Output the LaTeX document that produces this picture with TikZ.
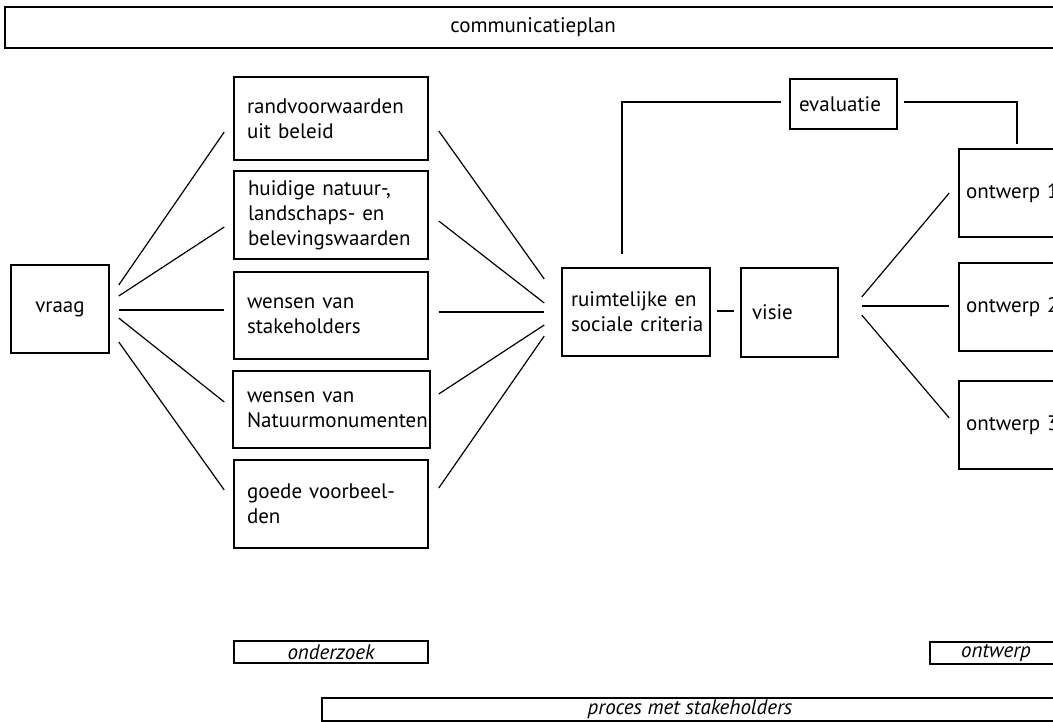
\documentclass[tikz,border=0pt]{standalone}
\usepackage{fontspec}
\setmainfont{PT Sans}
\usetikzlibrary{calc}

\begin{document}
\begin{tikzpicture}[x=1pt,y=-1pt,
			line width=1.2pt,
			square node/.style={rectangle,draw,line width=1.5pt,inner sep=0pt,
				minimum width=194pt,minimum height=88pt,font=\fontsize{21}{25}\selectfont},
			left node/.style={square node,align=left,text width=#1},
			band node/.style={rectangle,draw,line width=1.5pt,inner sep=0pt,
				minimum height=22pt,font=\fontsize{21}{25}\selectfont\itshape}]
			
			\useasboundingbox (0,0) rectangle (1053,722);
			\clip (0,0) rectangle (1053,722);
			
			\node[square node,minimum width=1056pt,minimum height=41pt,font=\fontsize{21}{25}\selectfont] (plan) at (533,27.5) {communicatieplan};
			
			\node[square node,minimum width=98pt] (vraag) at (60,309) {vraag};
			\node[left node=168pt,minimum height=83pt] (beleid) at (331,118.5) {randvoorwaarden\\uit beleid};
			\node[left node=166pt] (waarden) at (331,215) {huidige natuur-,\\landschaps- en\\belevingswaarden};
			\node[left node=168pt,minimum height=87pt] (stakeh) at (331,315.5) {wensen van\\stakeholders};
			\node[left node=169pt,minimum width=197pt,minimum height=77pt] (natuurm) at (331.5,409.5) {wensen van\\Natuurmonumenten};
			\node[left node=168pt] (voorb) at (331,504) {goede voorbeel-\\den};
			
			\node[left node=130pt,minimum width=148pt] (criteria) at (636,312) {ruimtelijke en\\\mbox{sociale criteria}};
			\node[left node=75pt,minimum width=97pt,minimum height=89pt] (visie) at (789.5,312.5) {visie};
			\node[left node=89pt,minimum width=107pt,minimum height=50pt] (eval) at (843.5,104) {evaluatie};
			
			\node[left node=111pt,minimum width=125pt] (ontw1) at (1021.5,193) {ontwerp 1};
			\node[left node=111pt,minimum width=125pt] (ontw2) at (1021.5,307) {ontwerp 2};
			\node[left node=111pt,minimum width=125pt] (ontw3) at (1021.5,425) {ontwerp 3};
			
			\node[band node,minimum width=194pt] (onderz) at (331,652) {onderzoek};
			\node[band node,minimum width=132pt] (ontwfase) at (996,653) {ontwerp};
			\node[band node,minimum width=736pt,minimum height=23pt] (proces) at (690,709.5) {proces met stakeholders};
			
			% vraag naar de vijf onderdelen
			\path
			($(vraag.east)+(9,-24)$) edge ($(beleid.west)+(-9,13.5)$)
			($(vraag.east)+(9,-13)$) edge ($(waarden.west)+(-9,12)$)
			($(vraag.east)+(9,1)$) edge ($(stakeh.west)+(-9,-5.5)$)
			($(vraag.east)+(9,9)$) edge ($(natuurm.west)+(-8,-7.5)$)
			($(vraag.east)+(9,33)$) edge ($(voorb.west)+(-9,-14)$);
			
			% onderdelen naar criteria
			\path
			($(beleid.east)+(10,12.5)$) edge ($(criteria.west)+(-17,-33)$)
			($(waarden.east)+(10,6)$) edge ($(criteria.west)+(-17,-9)$)
			($(stakeh.east)+(10,-3.5)$) edge ($(criteria.west)+(-17,0)$)
			($(natuurm.east)+(8,-15.5)$) edge ($(criteria.west)+(-17,13)$)
			($(voorb.east)+(10,-16)$) edge ($(criteria.west)+(-17,24)$);
			
			\path ($(criteria.east)+(6,-1)$) edge ($(visie.west)+(-6,-1.5)$);
			
			% visie naar ontwerpen
			\path
			($(visie.east)+(23,-15.5)$) edge ($(ontw1.west)+(-9,0)$)
			($(visie.east)+(23,-6.5)$) edge ($(ontw2.west)+(-9,-1)$)
			($(visie.east)+(23,2.5)$) edge ($(ontw3.west)+(-9,-7)$);
			
			% evaluatie
			\draw ($(criteria.north)+(-14,-13)$) |- ($(eval.west)+(-8,-2)$);
			\draw ($(eval.east)+(6,-2)$) -| ($(ontw1.north)+(-4.5,-4)$);
			\end{tikzpicture}
\end{document}
